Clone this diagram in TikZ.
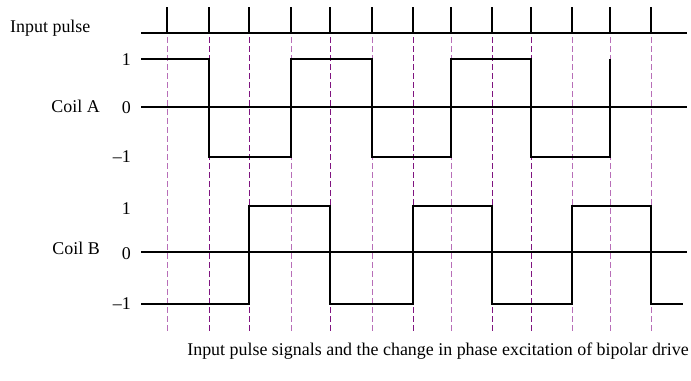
\documentclass[tikz,border=0pt]{standalone}
\usepackage{fontspec}
\setmainfont{Liberation Serif}
\definecolor{darkp}{RGB}{128,20,128}
\definecolor{lightp}{RGB}{184,110,184}
\begin{document}
\begin{tikzpicture}[x=1bp,y=-1bp,
  wave/.style={line width=1.8bp, black},
  guide/.style={line width=1bp, dash pattern=on 6bp off 3bp},
  lbl/.style={font=\fontsize{18}{21}\selectfont, inner sep=0pt}]
\useasboundingbox (0,0) rectangle (691,380);
\fill[white] (0,0) rectangle (691,380);
% guides
\foreach \x/\c in {167/lightp,209/darkp,249/darkp,291/lightp,330/darkp,372/lightp,413/darkp,451/lightp,492/darkp,531/darkp,572/lightp,610/lightp,651/lightp}
  \draw[guide, \c] (\x,37) -- (\x,334);
% input pulse
\draw[wave] (141,33) -- (687,33);
\foreach \x in {167,209,249,291,330,372,413,451,492,531,572,610,651}
  \draw[wave] (\x,7) -- (\x,33);
% zero lines
\draw[wave] (141,107) -- (687,107);
\draw[wave] (141,252) -- (687,252);
% coil A
\draw[wave, line join=miter] (141,59) -- (209,59) -- (209,157) -- (291,157) -- (291,59) -- (372,59) -- (372,157) -- (451,157) -- (451,59) -- (531,59) -- (531,157) -- (610,157) -- (610,59);
% coil B
\draw[wave, line join=miter] (141,304) -- (249,304) -- (249,206) -- (330,206) -- (330,304) -- (413,304) -- (413,206) -- (492,206) -- (492,304) -- (572,304) -- (572,206) -- (651,206) -- (651,304) -- (683,304);
% labels
\node[lbl, anchor=west] (inp) at (10,28) {Input pulse};
\node[lbl, anchor=east] (a1) at (131,60) {1};
\node[lbl, anchor=east] (aname) at (100,106) {Coil A};
\node[lbl, anchor=east] (a0) at (131,108) {0};
\node[lbl, anchor=east] (am) at (131,157) {–1};
\node[lbl, anchor=east] (b1) at (131,209) {1};
\node[lbl, anchor=east] (bname) at (100,248) {Coil B};
\node[lbl, anchor=east] (b0) at (131,254) {0};
\node[lbl, anchor=east] (bm) at (131,304) {–1};
\node[lbl, anchor=east] (cap) at (689,351) {Input pulse signals and the change in phase excitation of bipolar drive};
\end{tikzpicture}
\end{document}
